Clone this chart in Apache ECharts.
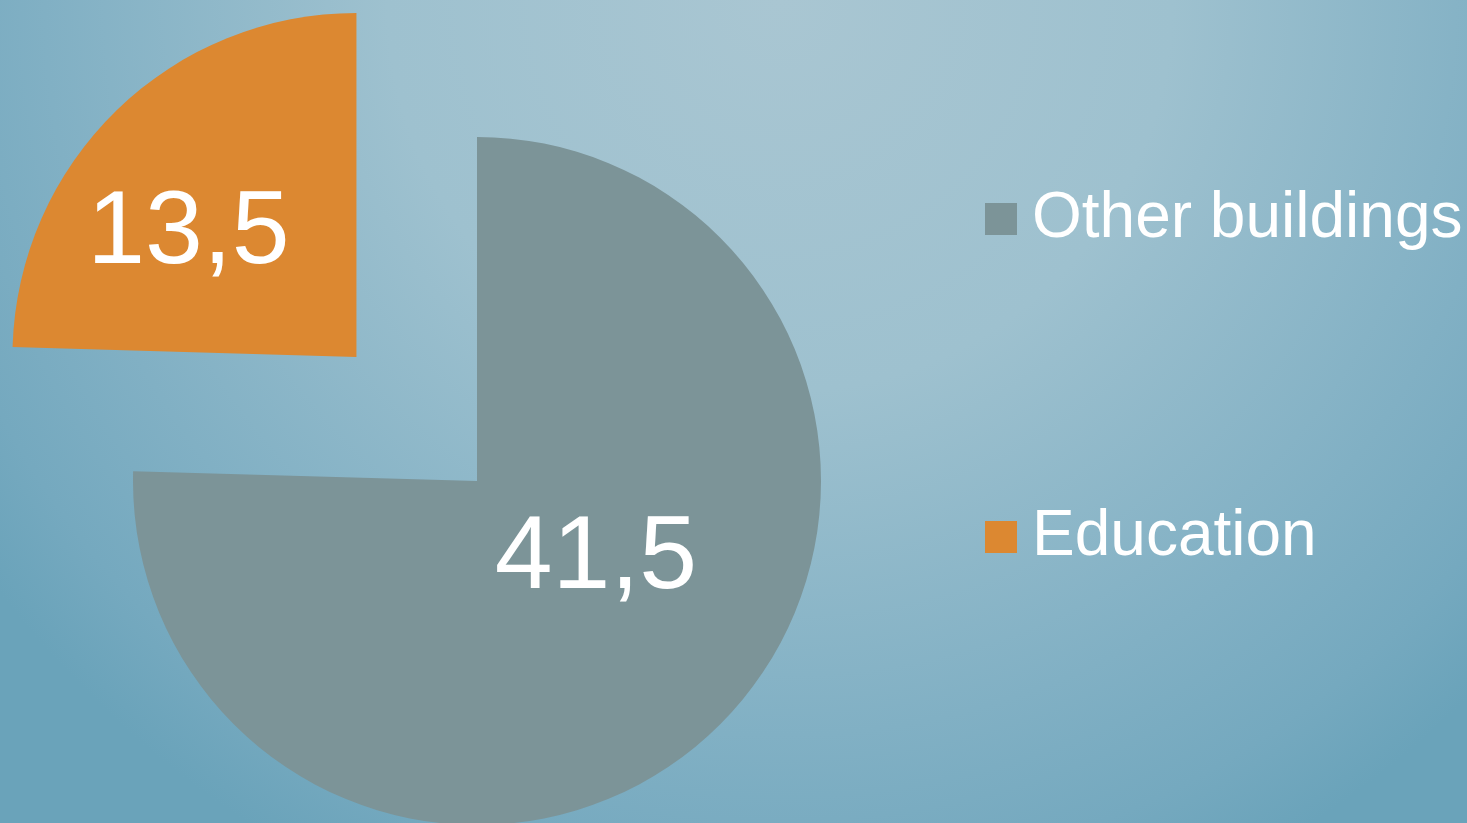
<!DOCTYPE html>
<html>
<head>
<meta charset="utf-8">
<script src="https://cdn.jsdelivr.net/npm/echarts@6/dist/echarts.min.js"></script>
<style>
  html, body { margin: 0; padding: 0; }
  #chart { width: 1467px; height: 823px; }
</style>
</head>
<body>
<div id="chart"></div>
<script>
// chart data
const categories = ['Other buildings', 'Education'];
const values = [41.5, 13.5];
const colors = ['#7c9498', '#dc8831'];
const exploded = [false, true];
// label nudges so the numbers sit where the original has them
const labelOffsets = [[-3, -47], [-46, 3]];

const chart = echarts.init(document.getElementById('chart'));

const fmt = (v) => String(v).replace('.', ',');

const options = {
  animation: false,
  backgroundColor: {
    type: 'radial',
    x: 780,
    y: 0,
    r: 980,
    global: true,
    colorStops: [
      { offset: 0, color: '#a9c6d2' },
      { offset: 0.4, color: '#9ec1cf' },
      { offset: 0.75, color: '#81b0c4' },
      { offset: 0.9, color: '#75a9bf' },
      { offset: 1, color: '#6aa3ba' },
    ],
  },
  legend: {
    orient: 'vertical',
    left: 985,
    top: 187,
    padding: 0,
    itemWidth: 32,
    itemHeight: 32,
    itemGap: 254,
    icon: 'rect',
    selectedMode: false,
    data: categories,
    textStyle: {
      color: '#ffffff',
      fontFamily: 'Liberation Sans, Arial, sans-serif',
      fontSize: 64,
      lineHeight: 64,
      padding: [0, 0, 0, 10],
    },
  },
  series: [
    {
      type: 'pie',
      center: [477, 481],
      radius: [0, 344],
      startAngle: 90,
      clockwise: true,
      selectedMode: 'single',
      selectedOffset: 173,
      avoidLabelOverlap: false,
      emphasis: { disabled: true },
      label: {
        show: true,
        position: 'inside',
        color: '#ffffff',
        fontFamily: 'Liberation Sans, Arial, sans-serif',
        fontSize: 104,
        formatter: (p) => fmt(p.value),
      },
      labelLine: { show: false },
      data: categories.map((name, i) => ({
        name: name,
        value: values[i],
        selected: exploded[i],
        itemStyle: { color: colors[i] },
        label: { offset: labelOffsets[i] },
        select: { itemStyle: { color: colors[i] }, label: { offset: labelOffsets[i] } },
      })),
    },
  ],
};

chart.setOption(options);
</script>
</body>
</html>
